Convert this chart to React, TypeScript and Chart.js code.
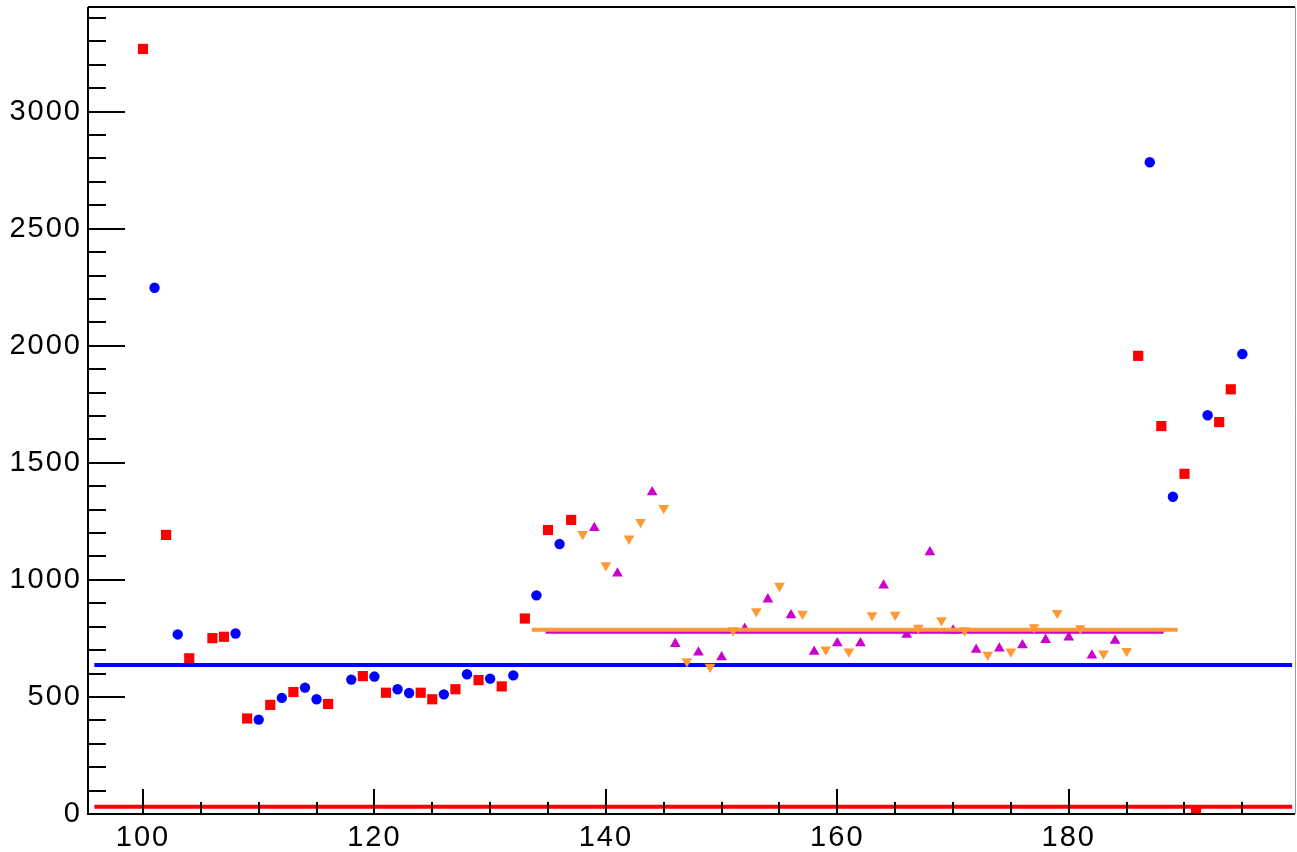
import React, { useEffect, useRef } from 'react';
import { Chart, registerables } from 'chart.js';

Chart.register(...registerables);

// ---- data ----
const redX = [100, 102, 104, 106, 107, 109, 111, 113, 116, 119, 121, 124, 125, 127, 129, 131, 133, 135, 137, 186, 188, 190, 191, 193, 194];
const redY = [3268, 1192, 665, 751, 757, 408, 466, 521, 470, 589, 518, 518, 490, 533, 572, 545, 835, 1213, 1256, 1957, 1657, 1453, 12, 1674, 1814];

const blueX = [101, 103, 108, 110, 112, 114, 115, 118, 120, 122, 123, 126, 128, 130, 132, 134, 136, 187, 189, 192, 195];
const blueY = [2248, 767, 771, 403, 496, 540, 490, 574, 587, 533, 517, 511, 597, 578, 592, 934, 1153, 2784, 1355, 1703, 1965];

const magentaX = [139, 141, 144, 146, 148, 150, 152, 154, 156, 158, 160, 162, 164, 166, 168, 170, 172, 174, 176, 178, 180, 182, 184];
const magentaY = [1222, 1028, 1375, 727, 690, 670, 791, 917, 849, 693, 730, 730, 976, 766, 1118, 784, 702, 707, 721, 744, 754, 677, 740];

const orangeX = [138, 140, 142, 143, 145, 147, 149, 151, 153, 155, 157, 159, 161, 163, 165, 167, 169, 171, 173, 175, 177, 179, 181, 183, 185];
const orangeY = [1196, 1062, 1176, 1247, 1307, 652, 629, 784, 866, 974, 855, 702, 694, 849, 851, 795, 827, 784, 680, 694, 797, 858, 793, 685, 696];

// constant fit levels and their x ranges
const blueFitLevel = 636;
const blueFitRange = [95.8, 199.3];
const redFitLevel = 31;
const redFitRange = [95.8, 199.3];
const orangeFitLevel = 787;
const orangeFitRange = [133.6, 189.4];
const magentaFitLevel = 777;
const magentaFitRange = [134.8, 188.2];

// axes
const xMin = 95.25;
const xMax = 199.55;
const yMin = 0;
const yMax = 3447;
const xTickValues = [100, 120, 140, 160, 180];
const yTickValues = [0, 500, 1000, 1500, 2000, 2500, 3000];
const xMinorStep = 5;
const yMinorStep = 100;

const RED = '#ff0000';
const BLUE = '#0000ff';
const MAGENTA = '#cc00cc';
const ORANGE = '#ff9933';

const pts = (xs: number[], ys: number[]) => xs.map((x, i) => ({ x, y: ys[i] }));
const fitLine = (level: number, range: number[]) => range.map((x) => ({ x, y: level }));

const spacingPlugin = {
  id: 'labelSpacing',
  beforeDraw(chart: any) {
    try {
      (chart.ctx as any).letterSpacing = '2px';
    } catch (e) {
      /* ignore */
    }
  },
  afterDraw(chart: any) {
    try {
      (chart.ctx as any).letterSpacing = '0px';
    } catch (e) {
      /* ignore */
    }
  },
};

const framePlugin = {
  id: 'rootFrame',
  afterDraw(chart: any) {
    const { ctx, chartArea, scales } = chart;
    const xs = scales.x;
    const ys = scales.y;
    const { left, right, top, bottom } = chartArea;
    ctx.save();
    ctx.lineCap = 'butt';
    ctx.strokeStyle = '#000';
    ctx.lineWidth = 2;
    for (let v = 0; v <= yMax; v += yMinorStep) {
      const py = Math.round(ys.getPixelForValue(v));
      const len = v % 500 === 0 ? 37 : 18;
      ctx.beginPath();
      ctx.moveTo(left, py);
      ctx.lineTo(left + len, py);
      ctx.stroke();
    }
    for (let v = Math.ceil(xMin / xMinorStep) * xMinorStep; v <= xMax; v += xMinorStep) {
      const px = Math.round(xs.getPixelForValue(v));
      const len = v % 20 === 0 ? 25 : 12;
      ctx.beginPath();
      ctx.moveTo(px, bottom);
      ctx.lineTo(px, bottom - len);
      ctx.stroke();
    }
    ctx.beginPath();
    ctx.moveTo(left, top);
    ctx.lineTo(left, bottom);
    ctx.lineTo(right, bottom);
    ctx.stroke();
    ctx.beginPath();
    ctx.moveTo(left, top);
    ctx.lineTo(right, top);
    ctx.stroke();
    ctx.strokeStyle = '#999';
    ctx.lineWidth = 1;
    ctx.beginPath();
    ctx.moveTo(right + 0.5, top);
    ctx.lineTo(right + 0.5, bottom);
    ctx.stroke();
    ctx.restore();
  },
};

export default function App() {
  const ref = useRef<HTMLCanvasElement | null>(null);

  useEffect(() => {
    document.body.style.margin = '0';
    const canvas = ref.current;
    if (!canvas) return;
    const font = { family: '"Liberation Sans", Arial, Helvetica, sans-serif', size: 29 };
    const chart = new Chart(canvas, {
      type: 'scatter',
      data: {
        datasets: [
          {
            label: 'orange',
            data: pts(orangeX, orangeY),
            pointStyle: 'triangle',
            rotation: 180,
            pointRadius: 6.2,
            pointBackgroundColor: ORANGE,
            pointBorderWidth: 0,
            borderColor: ORANGE,
            clip: 0,
            order: 1,
          },
          {
            label: 'orange fit',
            data: fitLine(orangeFitLevel, orangeFitRange),
            showLine: true,
            borderColor: ORANGE,
            borderWidth: 4,
            pointRadius: 0,
            clip: 0,
            order: 2,
          },
          {
            label: 'magenta fit',
            data: fitLine(magentaFitLevel, magentaFitRange),
            showLine: true,
            borderColor: MAGENTA,
            borderWidth: 3.5,
            pointRadius: 0,
            clip: 0,
            order: 3,
          },
          {
            label: 'blue fit',
            data: fitLine(blueFitLevel, blueFitRange),
            showLine: true,
            borderColor: BLUE,
            borderWidth: 4,
            pointRadius: 0,
            clip: 0,
            order: 4,
          },
          {
            label: 'red fit',
            data: fitLine(redFitLevel, redFitRange),
            showLine: true,
            borderColor: RED,
            borderWidth: 4,
            pointRadius: 0,
            clip: 0,
            order: 5,
          },
          {
            label: 'magenta',
            data: pts(magentaX, magentaY),
            pointStyle: 'triangle',
            pointRadius: 6.2,
            pointBackgroundColor: MAGENTA,
            pointBorderWidth: 0,
            borderColor: MAGENTA,
            clip: 0,
            order: 6,
          },
          {
            label: 'blue',
            data: pts(blueX, blueY),
            pointStyle: 'circle',
            pointRadius: 5.2,
            pointBackgroundColor: BLUE,
            pointBorderWidth: 0,
            borderColor: BLUE,
            clip: 0,
            order: 7,
          },
          {
            label: 'red',
            data: pts(redX, redY),
            pointStyle: 'rect',
            pointRadius: 7.2,
            pointBackgroundColor: RED,
            pointBorderWidth: 0,
            borderColor: RED,
            clip: 0,
            order: 8,
          },
        ],
      },
      options: {
        animation: false,
        responsive: false,
        maintainAspectRatio: false,
        devicePixelRatio: 1,
        layout: { autoPadding: false, padding: { top: 7, right: 2, left: 0, bottom: 0 } },
        plugins: { legend: { display: false }, tooltip: { enabled: false }, title: { display: false } },
        scales: {
          x: {
            type: 'linear',
            min: xMin,
            max: xMax,
            grid: { display: false, drawTicks: false },
            border: { display: false },
            afterBuildTicks: (s: any) => {
              s.ticks = xTickValues.map((v) => ({ value: v }));
            },
            afterFit: (s: any) => {
              s.height = 38;
              s.paddingLeft = 0;
              s.paddingRight = 0;
            },
            ticks: {
              color: '#000',
              font,
              padding: 7,
              maxRotation: 0,
              autoSkip: false,
              callback: (v: any) => String(v),
            },
          },
          y: {
            type: 'linear',
            min: yMin,
            max: yMax,
            grid: { display: false, drawTicks: false },
            border: { display: false },
            afterBuildTicks: (s: any) => {
              s.ticks = yTickValues.map((v) => ({ value: v }));
            },
            afterFit: (s: any) => {
              s.width = 88;
              s.paddingTop = 0;
              s.paddingBottom = 0;
            },
            ticks: {
              color: '#000',
              font,
              padding: 6,
              autoSkip: false,
              callback: (v: any) => String(v),
            },
          },
        },
      },
      plugins: [spacingPlugin, framePlugin],
    });
    return () => chart.destroy();
  }, []);

  return (
    <div style={{ position: 'fixed', left: 0, top: 0, width: 1297, height: 852, background: '#fff' }}>
      <canvas ref={ref} width={1297} height={852} style={{ display: 'block', width: 1297, height: 852 }} />
    </div>
  );
}
